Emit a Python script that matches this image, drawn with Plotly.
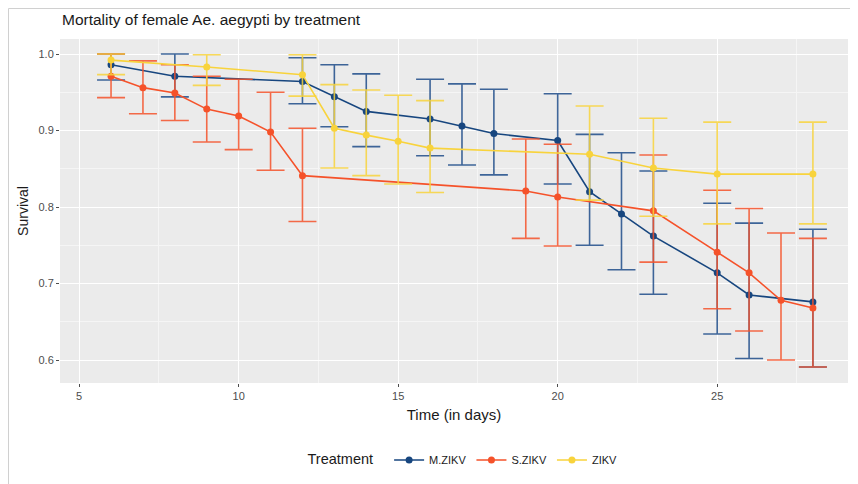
import plotly.graph_objects as go

# ---- data ----
m_days = [6, 8, 12, 13, 14, 16, 17, 18, 20, 21, 22, 23, 25, 26, 28]
m_surv = [0.986, 0.971, 0.964, 0.944, 0.925, 0.915, 0.906, 0.896, 0.887, 0.820, 0.791, 0.762, 0.714, 0.685, 0.676]
m_upper = [1.0, 1.0, 0.995, 0.986, 0.974, 0.967, 0.961, 0.954, 0.948, 0.895, 0.871, 0.847, 0.805, 0.779, 0.771]
m_lower = [0.966, 0.944, 0.935, 0.905, 0.879, 0.867, 0.855, 0.842, 0.830, 0.750, 0.718, 0.686, 0.634, 0.602, 0.591]

s_days = [6, 7, 8, 9, 10, 11, 12, 19, 20, 23, 25, 26, 27, 28]
s_surv = [0.971, 0.956, 0.949, 0.928, 0.919, 0.898, 0.841, 0.821, 0.813, 0.795, 0.741, 0.714, 0.678, 0.668]
s_upper = [1.0, 0.991, 0.986, 0.971, 0.967, 0.950, 0.903, 0.889, 0.882, 0.868, 0.822, 0.798, 0.766, 0.759]
s_lower = [0.943, 0.922, 0.913, 0.885, 0.875, 0.848, 0.781, 0.759, 0.749, 0.728, 0.667, 0.638, 0.600, 0.591]

z_days = [6, 9, 12, 13, 14, 15, 16, 21, 23, 25, 28]
z_surv = [0.992, 0.983, 0.973, 0.903, 0.894, 0.886, 0.877, 0.869, 0.851, 0.843, 0.843]
z_upper = [1.0, 0.999, 0.999, 0.960, 0.953, 0.946, 0.939, 0.932, 0.916, 0.911, 0.911]
z_lower = [0.973, 0.959, 0.945, 0.851, 0.841, 0.830, 0.819, 0.809, 0.788, 0.778, 0.778]

x_ticks = [5, 10, 15, 20, 25]
y_ticks = [0.6, 0.7, 0.8, 0.9, 1.0]

series = [
    ("M.ZIKV", m_days, m_surv, m_upper, m_lower, "#17467f", "rgba(30,76,138,0.85)"),
    ("S.ZIKV", s_days, s_surv, s_upper, s_lower, "#f5522a", "rgba(245,82,42,0.85)"),
    ("ZIKV", z_days, z_surv, z_upper, z_lower, "#f8d33c", "rgba(248,211,60,0.85)"),
]

fig = go.Figure()
for name, xs, ys, up, lo, col, ecol in series:
    fig.add_trace(go.Scatter(
        x=xs, y=ys, name=name, mode="lines+markers",
        line=dict(color=col, width=1.6),
        marker=dict(color=col, size=7),
        error_y=dict(type="data", symmetric=False,
                     array=[u - y for u, y in zip(up, ys)],
                     arrayminus=[y - l for y, l in zip(ys, lo)],
                     color=ecol, thickness=1.6, width=14),
    ))

# the page body adds an 8px offset; figure is sized to compensate
OFF = 8
W, H = 858 - OFF, 484 - OFF
L, R, T, B = 60 - OFF, 10, 39 - OFF, 101
pw, ph = W - L - R, H - T - B

fig.update_layout(
    width=W, height=H,
    margin=dict(l=L, r=R, t=T, b=B, autoexpand=False),
    paper_bgcolor="white",
    plot_bgcolor="#ebebeb",
    font=dict(family="Liberation Sans, Arial, sans-serif", color="#4d4d4d"),
    title=dict(text="Mortality of female Ae. aegypti by treatment",
               x=(62 - OFF) / W, xanchor="left", y=1 - (20 - OFF) / H, yanchor="middle",
               font=dict(size=15.5, color="#1a1a1a")),
    xaxis=dict(range=[4.4, 29.1], tickvals=x_ticks, ticktext=[str(v) for v in x_ticks],
               showgrid=True, gridcolor="white", gridwidth=1.2, zeroline=False, automargin=False,
               ticks="outside", ticklen=3, tickcolor="#4d4d4d", tickfont=dict(size=11, color="#4d4d4d"),
               minor=dict(tick0=2.5, dtick=5, showgrid=True, gridcolor="#f5f5f5", gridwidth=0.6, ticks=""),
               title=dict(text="Time (in days)", font=dict(size=15, color="#1a1a1a"), standoff=8)),
    yaxis=dict(range=[0.570, 1.0196], tickvals=y_ticks, ticktext=["0.6", "0.7", "0.8", "0.9", "1.0"],
               showgrid=True, gridcolor="white", gridwidth=1.2, zeroline=False, automargin=False,
               ticks="outside", ticklen=3, tickcolor="#4d4d4d", tickfont=dict(size=11, color="#4d4d4d"),
               minor=dict(tick0=0.55, dtick=0.1, showgrid=True, gridcolor="#f5f5f5", gridwidth=0.6, ticks=""),
               title=dict(text="Survival", font=dict(size=14, color="#1a1a1a"), standoff=6)),
    legend=dict(orientation="h", x=0.5 + 10 / pw, xanchor="center", y=-(460 - 383) / ph, yanchor="middle",
                title=dict(text="Treatment  ", font=dict(size=14.5, color="#1a1a1a"), side="left"),
                font=dict(size=11, color="#1a1a1a"), bgcolor="rgba(0,0,0,0)"),
    showlegend=True,
    shapes=[dict(type="rect", xref="paper", yref="paper",
                 x0=(0.5 - L) / pw, x1=(W + 5 - L) / pw,
                 y0=-(H + 5 - T - ph) / ph, y1=1 + (T - 0.5) / ph,
                 line=dict(color="#d0d0d0", width=1), fillcolor="rgba(0,0,0,0)", layer="below")],
)

fig.write_html("out.html")
